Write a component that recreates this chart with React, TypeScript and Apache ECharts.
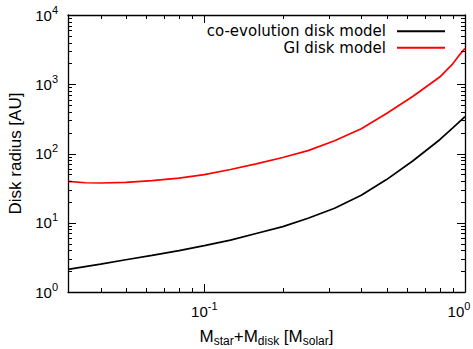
import React, { useEffect, useRef } from "react";
import * as echarts from "echarts";

// total mass M_star + M_disk [M_solar]
const coevoMass = [0.03, 0.04, 0.05, 0.063, 0.08, 0.1, 0.126, 0.158, 0.2, 0.25, 0.316, 0.4, 0.5, 0.63, 0.8, 0.9, 1.0];
// disk radius [AU], co-evolution disk model
const coevoRadius = [2.12, 2.52, 2.92, 3.38, 3.95, 4.67, 5.61, 7.0, 8.8, 11.6, 16.2, 25, 42, 78, 158, 236, 342];

const giMass = [0.03, 0.035, 0.04, 0.05, 0.063, 0.08, 0.1, 0.126, 0.158, 0.2, 0.25, 0.316, 0.4, 0.5, 0.63, 0.8, 0.89, 0.95, 1.0];
// disk radius [AU], GI disk model
const giRadius = [39.5, 37.8, 37.5, 38.2, 40.5, 44.2, 49.5, 58.7, 70.8, 87.5, 110, 153, 228, 378, 665, 1270, 1900, 2620, 3300];

const seriesNames = ["co-evolution disk model", "GI disk model"];
const seriesColors = ["#000000", "#ff0000"];

const xMin = 0.03;
const xMax = 1;
const yMin = 1;
const yMax = 10000;

const xMajorTicks = [0.1, 1];
const xMinorTicks = [0.04, 0.05, 0.06, 0.07, 0.08, 0.09, 0.2, 0.3, 0.4, 0.5, 0.6, 0.7, 0.8, 0.9];
const yMajorTicks = [1, 10, 100, 1000, 10000];
const yMinorTicks = [
  2, 3, 4, 5, 6, 7, 8, 9,
  20, 30, 40, 50, 60, 70, 80, 90,
  200, 300, 400, 500, 600, 700, 800, 900,
  2000, 3000, 4000, 5000, 6000, 7000, 8000, 9000,
];

const FONT = "'Liberation Sans', Arial, Helvetica, sans-serif";
const LEGEND_FONT = "'DejaVu Sans', 'Liberation Sans', sans-serif";

function powerLabel(v: number, isX: boolean): string {
  const e = Math.log10(v);
  const r = Math.round(e);
  if (Math.abs(e - r) > 1e-6) return "";
  const tail = isX && r === 0 ? "{p|}" : "";
  return `{b|10}{s|${r}}${tail}`;
}

const labelRich = {
  b: { fontSize: 15, fontFamily: FONT, color: "#000" },
  s: { fontSize: 11, fontFamily: FONT, color: "#000", padding: [0, 0, 11, 0] },
  p: { width: 12 },
};

function tickSeries(values: number[], dir: "x" | "y", len: number) {
  return {
    type: "custom",
    xAxisIndex: 0,
    yAxisIndex: 0,
    silent: true,
    clip: false,
    z: 5,
    data: values.map((v) => (dir === "x" ? [v, yMin] : [xMin, v])),
    renderItem: (params: any, api: any) => {
      const cs = params.coordSys;
      const style = { stroke: "#000", lineWidth: 1 };
      if (dir === "x") {
        const x = Math.round(api.coord([api.value(0), yMin])[0]) + 0.5;
        const yb = cs.y + cs.height;
        const yt = cs.y;
        return {
          type: "group",
          children: [
            { type: "line", shape: { x1: x, y1: yb, x2: x, y2: yb - len }, style },
            { type: "line", shape: { x1: x, y1: yt, x2: x, y2: yt + len }, style },
          ],
        };
      }
      const y = Math.round(api.coord([xMin, api.value(1)])[1]) + 0.5;
      const xl = cs.x;
      const xr = cs.x + cs.width;
      return {
        type: "group",
        children: [
          { type: "line", shape: { x1: xl, y1: y, x2: xl + len, y2: y }, style },
          { type: "line", shape: { x1: xr, y1: y, x2: xr - len, y2: y }, style },
        ],
      };
    },
  };
}

export default function App() {
  const ref = useRef<HTMLDivElement>(null);

  useEffect(() => {
    if (!ref.current) return;
    const chart = echarts.init(ref.current, null, { renderer: "svg" });
    const axisLine = { show: true, lineStyle: { color: "#000", width: 1.3 } };
    const baseAxis = {
      axisLine,
      axisTick: { show: false },
      splitLine: { show: false },
      minorTick: { show: false },
      minorSplitLine: { show: false },
    };
    chart.setOption({
      animation: false,
      backgroundColor: "#ffffff",
      grid: { left: 68, right: 8, top: 15, bottom: 57, containLabel: false, outerBoundsMode: "none" },
      legend: {
        data: seriesNames.map((n) => ({ name: n, icon: "rect" })),
        orient: "vertical",
        align: "right",
        padding: 0,
        right: 28,
        top: 23,
        itemWidth: 48,
        itemHeight: 2,
        itemGap: 0,
        textStyle: {
          fontSize: 15,
          lineHeight: 16.5,
          fontFamily: LEGEND_FONT,
          color: "#000",
          padding: [0, 6, 0, 0],
        },
      },
      xAxis: [
        {
          ...baseAxis,
          type: "log",
          logBase: 10,
          min: xMin,
          max: xMax,
          position: "bottom",
          axisLabel: {
            margin: 8,
            showMinLabel: false,
            formatter: (v: number) => powerLabel(v, true),
            rich: labelRich,
          },
          name: "M{sub|star}+M{sub|disk} [M{sub|solar}]",
          nameLocation: "middle",
          nameGap: 34,
          nameTextStyle: {
            fontSize: 17,
            fontFamily: FONT,
            color: "#000",
            rich: {
              sub: { fontSize: 12, fontFamily: FONT, color: "#000", padding: [9, 0, 0, 0] },
            },
          },
        },
        {
          ...baseAxis,
          type: "log",
          logBase: 10,
          min: xMin,
          max: xMax,
          position: "top",
          axisLabel: { show: false },
        },
      ],
      yAxis: [
        {
          ...baseAxis,
          type: "log",
          logBase: 10,
          min: yMin,
          max: yMax,
          position: "left",
          axisLabel: {
            margin: 10,
            formatter: (v: number) => powerLabel(v, false),
            rich: labelRich,
          },
          name: "Disk radius [AU]",
          nameLocation: "middle",
          nameGap: 42,
          nameTextStyle: { fontSize: 17, fontFamily: FONT, color: "#000" },
        },
        {
          ...baseAxis,
          type: "log",
          logBase: 10,
          min: yMin,
          max: yMax,
          position: "right",
          axisLabel: { show: false },
        },
      ],
      series: [
        {
          name: seriesNames[0],
          type: "line",
          xAxisIndex: 0,
          yAxisIndex: 0,
          symbol: "none",
          smooth: false,
          data: coevoMass.map((m, i) => [m, coevoRadius[i]]),
          lineStyle: { color: seriesColors[0], width: 1.7 },
          itemStyle: { color: seriesColors[0] },
          z: 3,
        },
        {
          name: seriesNames[1],
          type: "line",
          xAxisIndex: 0,
          yAxisIndex: 0,
          symbol: "none",
          smooth: false,
          data: giMass.map((m, i) => [m, giRadius[i]]),
          lineStyle: { color: seriesColors[1], width: 1.7 },
          itemStyle: { color: seriesColors[1] },
          z: 3,
        },
        tickSeries(xMajorTicks, "x", 8),
        tickSeries(xMinorTicks, "x", 4),
        tickSeries(yMajorTicks, "y", 8),
        tickSeries(yMinorTicks, "y", 4),
      ],
    });
    return () => chart.dispose();
  }, []);

  return <div ref={ref} style={{ width: 473, height: 349, position: "absolute", left: 0, top: 0 }} />;
}
